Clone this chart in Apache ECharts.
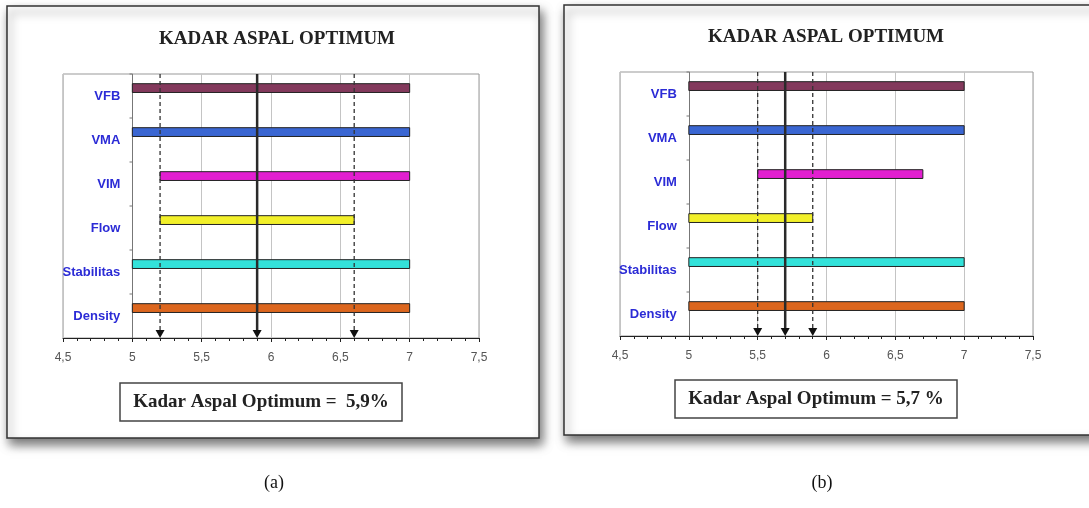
<!DOCTYPE html>
<html>
<head>
<meta charset="utf-8">
<script src="https://cdn.jsdelivr.net/npm/echarts@6/dist/echarts.min.js"></script>
<style>
  html, body { margin: 0; padding: 0; background: #fff; }
  #main { width: 1089px; height: 508px; }
</style>
</head>
<body>
<div id="main"></div>
<script>
// categories, top to bottom
var categories = ['VFB', 'VMA', 'VIM', 'Flow', 'Stabilitas', 'Density'];

// panel (a): range of each property
var startA = [5, 5, 5.2, 5.2, 5, 5];
var endA   = [7, 7, 7, 6.6, 7, 7];
var limitsA = [5.2, 6.6];
var optimumA = 5.9;

// panel (b)
var startB = [5, 5, 5.5, 5, 5, 5];
var endB   = [7, 7, 6.7, 5.9, 7, 7];
var limitsB = [5.5, 5.9];
var optimumB = 5.7;

// x axis
var xMin = 4.5, xMax = 7.5, xStep = 0.5;
var axisCross = 5; // vertical axis crosses here

var barColors = ['#83395c', '#3a66d2', '#e21fd0', '#f2f02a', '#33e2da', '#dc661e'];

function fmt(v) { return String(v).replace('.', ','); }

function barData(start, end) {
    var out = [];
    for (var i = 0; i < start.length; i++) out.push([i, start[i], end[i]]);
    return out;
}
function markData(limits, opt) {
    var out = limits.map(function (v) { return [v, 0]; });
    out.push([opt, 1]);
    return out;
}
function crossData() {
    return categories.map(function (c, i) { return [axisCross, i]; });
}

function renderBar(params, api) {
    var cat = api.value(0);
    var p0 = api.coord([api.value(1), cat]);
    var p1 = api.coord([api.value(2), cat]);
    var band = api.size([0, 1])[1];
    var h = band * 0.2;
    var cy = p0[1] - band * 0.18;
    return {
        type: 'rect',
        shape: { x: p0[0], y: cy - h / 2, width: p1[0] - p0[0], height: h },
        style: { fill: barColors[cat], stroke: '#222', lineWidth: 1 }
    };
}

// vertical axis line crossing at x = 5, one band per item, with a tick at the band edge
function renderCross(params, api) {
    var p = api.coord([api.value(0), api.value(1)]);
    var band = api.size([0, 1])[1];
    var x = Math.round(p[0]) + 0.5;
    var y0 = p[1] - band / 2, y1 = p[1] + band / 2;
    return {
        type: 'group',
        children: [
            { type: 'line', shape: { x1: x, y1: y0, x2: x, y2: y1 },
              style: { stroke: '#777', lineWidth: 1 } },
            { type: 'line', shape: { x1: x - 3, y1: y0, x2: x, y2: y0 },
              style: { stroke: '#777', lineWidth: 1 } }
        ]
    };
}

function renderMark(params, api) {
    var solid = api.value(1) === 1;
    var cs = params.coordSys;
    var px = api.coord([api.value(0), 0])[0];
    var top = cs.y, bottom = cs.y + cs.height;
    return {
        type: 'group',
        children: [
            {
                type: 'line',
                shape: { x1: px, y1: top, x2: px, y2: bottom - 7 },
                style: solid ? { stroke: '#2a2a2a', lineWidth: 2.5 }
                             : { stroke: '#333', lineWidth: 1.3, lineDash: [4, 3] }
            },
            {
                type: 'polygon',
                shape: { points: [[px - 4.5, bottom - 8], [px + 4.5, bottom - 8], [px, bottom]] },
                style: { fill: '#111' }
            }
        ]
    };
}

function xAxisOpt(gridIndex) {
    return {
        type: 'value', gridIndex: gridIndex,
        min: xMin, max: xMax, interval: xStep,
        axisLine: { show: true, lineStyle: { color: '#222', width: 1 } },
        axisTick: { show: true, length: 4, lineStyle: { color: '#222' } },
        minorTick: { show: true, splitNumber: 5, length: 3, lineStyle: { color: '#222' } },
        splitLine: { show: true, lineStyle: { color: '#c4c4c4', width: 1 } },
        axisLabel: {
            color: '#555', fontFamily: 'Liberation Sans, Arial', fontSize: 12, margin: 14,
            formatter: function (v) { return fmt(v); }
        }
    };
}

function yAxisOpt(gridIndex) {
    return {
        type: 'category', gridIndex: gridIndex, inverse: true,
        data: categories,
        axisLine: { show: false },
        axisTick: { show: false },
        axisLabel: {
            color: '#2b2bd6', fontFamily: 'Liberation Sans, Arial', fontWeight: 'bold',
            fontSize: 13, margin: 12
        },
        splitLine: { show: false }
    };
}

var gridA = { left: 63, top: 74, width: 416, height: 264 };
var gridB = { left: 620, top: 72, width: 413, height: 264 };

function frame(x, y, w, h) {
    return {
        type: 'rect', z: -10,
        shape: { x: x, y: y, width: w, height: h },
        style: {
            fill: '#fff', stroke: '#333', lineWidth: 1.5,
            shadowBlur: 10, shadowOffsetX: 3, shadowOffsetY: 6, shadowColor: 'rgba(0,0,0,0.55)'
        }
    };
}

function serifText(x, y, text, size) {
    return {
        type: 'text', x: x, y: y,
        style: {
            text: text, fill: '#222', align: 'center', verticalAlign: 'middle',
            font: 'bold ' + size + 'px "Liberation Serif", "Times New Roman", serif'
        }
    };
}

function resultBox(x, y, w, h, text) {
    return [
        {
            type: 'rect',
            shape: { x: x, y: y, width: w, height: h },
            style: { fill: '#fff', stroke: '#444', lineWidth: 1.5 }
        },
        serifText(x + w / 2, y + h / 2, text, 19)
    ];
}

var chart = echarts.init(document.getElementById('main'), null, { renderer: 'canvas' });

var gridStyle = { show: true, borderColor: '#999', borderWidth: 1, backgroundColor: '#fff', outerBoundsMode: 'none' };

var option = {
    backgroundColor: '#fff',
    animation: false,
    grid: [
        Object.assign({}, gridStyle, gridA),
        Object.assign({}, gridStyle, gridB)
    ],
    xAxis: [xAxisOpt(0), xAxisOpt(1)],
    yAxis: [yAxisOpt(0), yAxisOpt(1)],
    series: [
        { type: 'custom', xAxisIndex: 0, yAxisIndex: 0, renderItem: renderCross,
          encode: { x: 0, y: 1 }, data: crossData(), z: 2 },
        { type: 'custom', xAxisIndex: 0, yAxisIndex: 0, renderItem: renderBar,
          encode: { x: [1, 2], y: 0 }, data: barData(startA, endA), z: 3 },
        { type: 'custom', xAxisIndex: 0, yAxisIndex: 0, renderItem: renderMark,
          encode: { x: 0 }, data: markData(limitsA, optimumA), z: 4 },
        { type: 'custom', xAxisIndex: 1, yAxisIndex: 1, renderItem: renderCross,
          encode: { x: 0, y: 1 }, data: crossData(), z: 2 },
        { type: 'custom', xAxisIndex: 1, yAxisIndex: 1, renderItem: renderBar,
          encode: { x: [1, 2], y: 0 }, data: barData(startB, endB), z: 3 },
        { type: 'custom', xAxisIndex: 1, yAxisIndex: 1, renderItem: renderMark,
          encode: { x: 0 }, data: markData(limitsB, optimumB), z: 4 }
    ],
    graphic: [
        frame(7, 6, 532, 432),
        frame(564, 5, 540, 430),
        serifText(277, 39, 'KADAR ASPAL OPTIMUM', 19),
        serifText(826, 37, 'KADAR ASPAL OPTIMUM', 19)
    ]
        .concat(resultBox(120, 383, 282, 38, 'Kadar Aspal Optimum =  ' + fmt(optimumA) + '%'))
        .concat(resultBox(675, 380, 282, 38, 'Kadar Aspal Optimum = ' + fmt(optimumB) + ' %'))
        .concat([
            {
                type: 'text', x: 274, y: 483,
                style: { text: '(a)', fill: '#111', align: 'center', verticalAlign: 'middle',
                         font: '18px "Liberation Serif", serif' }
            },
            {
                type: 'text', x: 822, y: 483,
                style: { text: '(b)', fill: '#111', align: 'center', verticalAlign: 'middle',
                         font: '18px "Liberation Serif", serif' }
            }
        ])
};

chart.setOption(option);

// labels of the category axis sit just left of the line at x = 5
var pxA = chart.convertToPixel({ xAxisIndex: 0 }, axisCross);
var pxB = chart.convertToPixel({ xAxisIndex: 1 }, axisCross);
chart.setOption({
    yAxis: [
        { axisLabel: { margin: 12 - (pxA - gridA.left) } },
        { axisLabel: { margin: 12 - (pxB - gridB.left) } }
    ]
});
</script>
</body>
</html>
